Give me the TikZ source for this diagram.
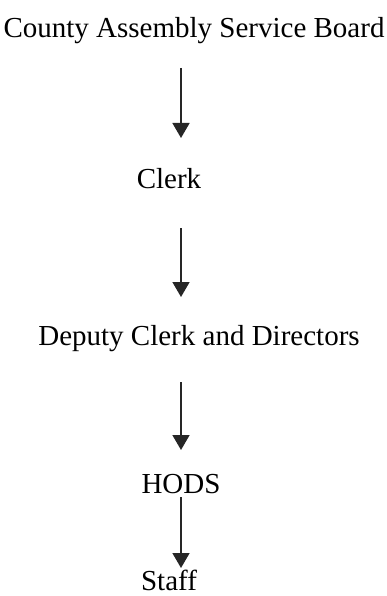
\documentclass[tikz,border=0pt]{standalone}
\usepackage{fontspec}
\setmainfont{Liberation Serif}
\usetikzlibrary{arrows.meta, positioning, calc}

\tikzset{
  level/.style={anchor=base, inner sep=0pt, font=\fontsize{29}{34}\selectfont},
  flow/.style={line width=1.6pt, draw=black!85, -{Triangle[width=17pt,length=15pt]}}
}

\begin{document}
\begin{tikzpicture}[x=1pt, y=1pt]
  \useasboundingbox (0,0) rectangle (387,-596);
  % levels of the hierarchy
  \node[level] (board)  at (194,-38)  {County Assembly Service Board};
  \node[level] (clerk)  at (169,-188) {Clerk};
  \node[level] (deputy) at (199,-345) {Deputy Clerk and Directors};
  \node[level] (hods)   at (181,-493) {HODS};
  \node[level] (staff)  at (169,-590) {Staff};
  \coordinate (spine) at (181,0);
  % reporting lines
  \draw[flow] ([yshift=-30pt]board.base -| spine) -- ([yshift=50pt]clerk.base -| spine);
  \draw[flow] ([yshift=-40pt]clerk.base -| spine) -- ([yshift=48pt]deputy.base -| spine);
  \draw[flow] ([yshift=-37pt]deputy.base -| spine) -- ([yshift=43pt]hods.base -| spine);
  \draw[flow] ([yshift=-4pt]hods.base -| spine) -- ([yshift=22pt]staff.base -| spine);
\end{tikzpicture}
\end{document}
